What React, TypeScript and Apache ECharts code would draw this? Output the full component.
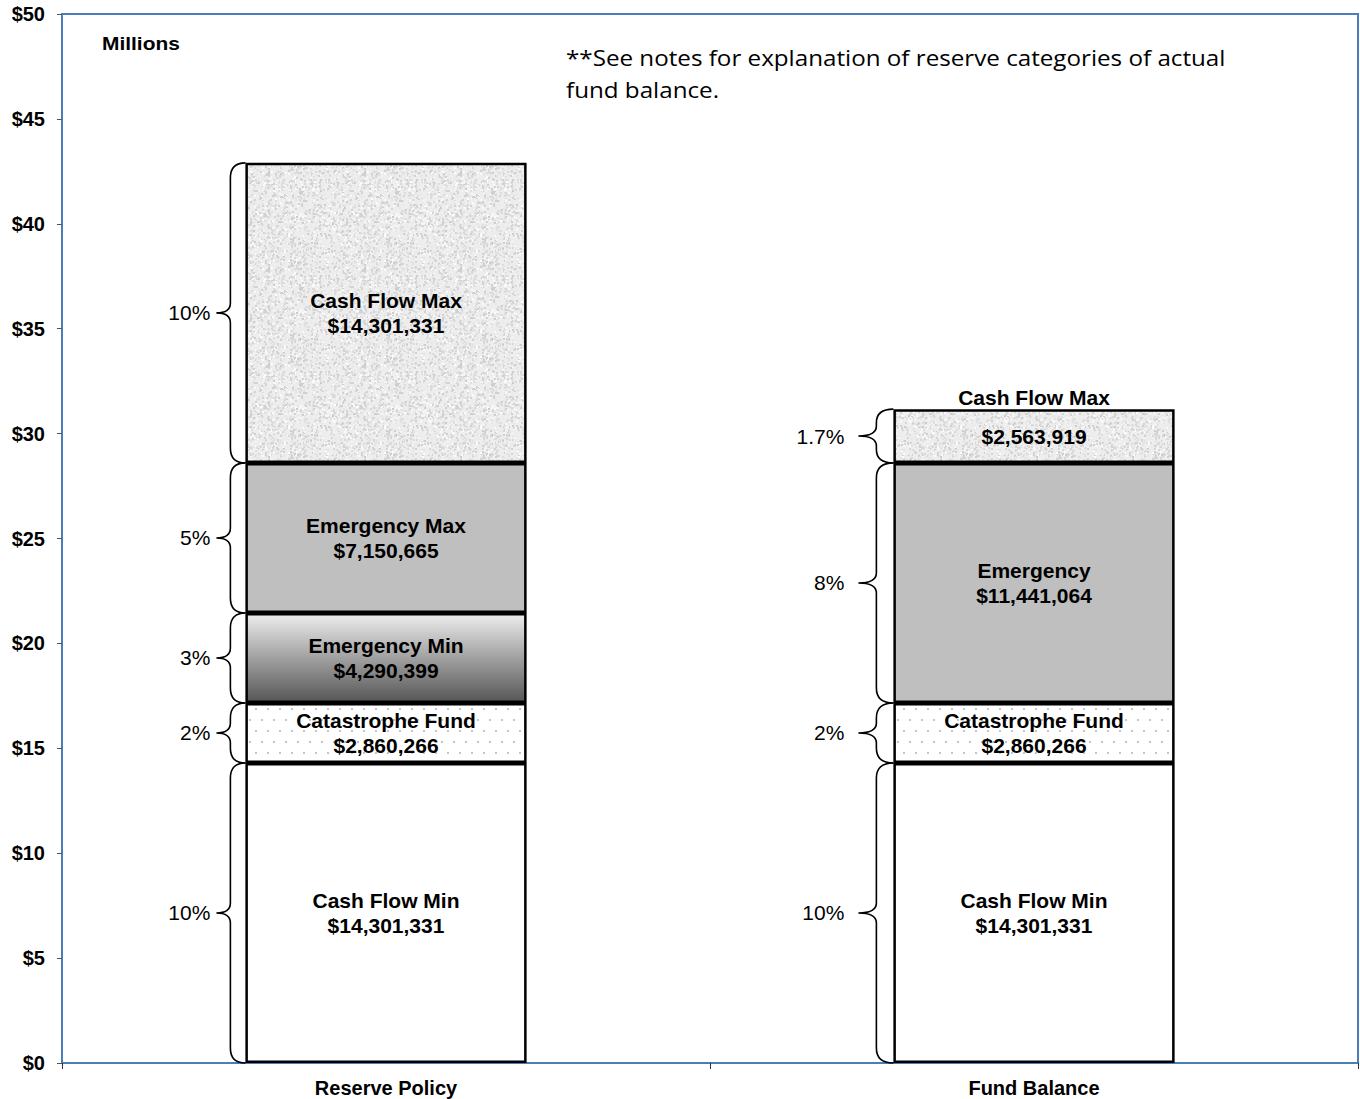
import React, { useEffect, useRef } from "react";
import * as echarts from "echarts";

// ---- data (millions of dollars) ----
const categories = ["Reserve Policy", "Fund Balance"];
const cashFlowMin = [14.301331, 14.301331];
const catastropheFund = [2.860266, 2.860266];
const emergencyMin: (number | string)[] = [4.290399, "-"];
const emergency = [7.150665, 11.441064];
const cashFlowMax = [14.301331, 2.563919];

const cashFlowMinNames = ["Cash Flow Min", "Cash Flow Min"];
const catastropheNames = ["Catastrophe Fund", "Catastrophe Fund"];
const emergencyMinNames = ["Emergency Min", ""];
const emergencyNames = ["Emergency Max", "Emergency"];
const cashFlowMaxInsideNames = ["Cash Flow Max", ""];
const cashFlowMaxAboveNames = ["", "Cash Flow Max"];

const cashFlowMinPct = ["10%", "10%"];
const catastrophePct = ["2%", "2%"];
const emergencyMinPct = ["3%", ""];
const emergencyPct = ["5%", "8%"];
const cashFlowMaxPct = ["10%", "1.7%"];

const yMin = 0;
const yMax = 50;
const yInterval = 5;
const noteLines = ["**See notes for explanation of reserve categories of actual", "fund balance."];
const unitLabel = "Millions";

const BAR_FRAC = 0.434;
const FONT = "Liberation Sans, Arial, sans-serif";

function fmtMoney(v: number) {
  return "$" + Math.round(v * 1e6).toLocaleString("en-US");
}

function makeNoiseCanvas() {
  const c = document.createElement("canvas");
  c.width = 96;
  c.height = 96;
  const ctx = c.getContext("2d")!;
  ctx.fillStyle = "#ededed";
  ctx.fillRect(0, 0, 96, 96);
  let s = 987654321;
  const rnd = () => {
    s = (Math.imul(s, 1664525) + 1013904223) >>> 0;
    return s / 4294967296;
  };
  for (let i = 0; i < 1800; i++) {
    const g = 205 + Math.floor(rnd() * 48);
    ctx.fillStyle = `rgb(${g},${g},${g})`;
    ctx.fillRect(Math.floor(rnd() * 96), Math.floor(rnd() * 96), 2, 2);
  }
  return c;
}

function makeDotCanvas() {
  const c = document.createElement("canvas");
  c.width = 24;
  c.height = 22;
  const ctx = c.getContext("2d")!;
  ctx.fillStyle = "#ffffff";
  ctx.fillRect(0, 0, 24, 22);
  ctx.fillStyle = "#c4c4c4";
  [[3, 4], [15, 4], [9, 15], [21, 15]].forEach(([x, y]) => ctx.fillRect(x, y, 2, 2));
  return c;
}

export default function App() {
  const ref = useRef<HTMLDivElement>(null);

  useEffect(() => {
    if (!ref.current) return;
    const chart = echarts.init(ref.current, null, { renderer: "svg" });

    const noise = makeNoiseCanvas();
    const dots = makeDotCanvas();

    const stackSeries = [cashFlowMin, catastropheFund, emergencyMin, emergency, cashFlowMax];
    const pctSeries = [cashFlowMinPct, catastrophePct, emergencyMinPct, emergencyPct, cashFlowMaxPct];
    const braceData: number[][] = [];
    const braceLabels: string[] = [];
    categories.forEach((_, ci) => {
      let acc = 0;
      stackSeries.forEach((arr, si) => {
        const v = arr[ci];
        if (typeof v !== "number") return;
        braceData.push([ci, acc, acc + v]);
        braceLabels.push(pctSeries[si][ci]);
        acc += v;
      });
    });
    const totals = categories.map((_, ci) =>
      stackSeries.reduce((a, arr) => a + (typeof arr[ci] === "number" ? (arr[ci] as number) : 0), 0)
    );
    const aboveData = categories
      .map((_, ci) => [ci, totals[ci]])
      .filter((_, ci) => cashFlowMaxAboveNames[ci]);
    const aboveLabels = cashFlowMaxAboveNames.filter((n) => n);

    const braceGeom = [
      { v: 15, tip: 29, gap: 6 },
      { v: 17, tip: 35, gap: 14 },
    ];

    const labelStyle = {
      show: true,
      position: "inside",
      color: "#000",
      fontFamily: FONT,
      fontWeight: "bold",
      fontSize: 21,
      lineHeight: 25,
    };

    const mkLabel = (names: string[]) => ({
      ...labelStyle,
      formatter: (p: any) => {
        const n = names[p.dataIndex];
        return n ? `${n}\n${fmtMoney(p.value)}` : fmtMoney(p.value);
      },
    });

    const itemBase = { borderColor: "#000", borderWidth: 2.5 };

    chart.setOption({
      animation: false,
      backgroundColor: "#fff",
      grid: {
        left: 62,
        right: 2,
        top: 14,
        bottom: 36,
        show: true,
        borderColor: "#4a7ebb",
        borderWidth: 2,
        backgroundColor: "transparent",
      },
      xAxis: {
        type: "category",
        data: categories,
        axisLine: { show: true, lineStyle: { color: "#4a7ebb", width: 2 } },
        axisTick: { show: true, length: 6, lineStyle: { color: "#333" } },
        axisLabel: {
          color: "#000",
          fontFamily: FONT,
          fontWeight: "bold",
          fontSize: 20,
          margin: 15,
        },
      },
      yAxis: {
        type: "value",
        min: yMin,
        max: yMax,
        interval: yInterval,
        splitLine: { show: false },
        axisLine: { show: true, lineStyle: { color: "#4a7ebb", width: 2 } },
        axisTick: { show: true, length: 5, lineStyle: { color: "#555" } },
        axisLabel: {
          color: "#000",
          fontFamily: FONT,
          fontWeight: "bold",
          fontSize: 20,
          margin: 17,
          formatter: (v: number) => "$" + v,
        },
      },
      graphic: [
        {
          type: "text",
          x: 102,
          y: 34,
          scaleX: 1.1,
          style: { text: unitLabel, font: `bold 19px ${FONT}`, fill: "#000" },
        },
        {
          type: "text",
          x: 566,
          y: 41,
          scaleX: 1.1,
          style: {
            text: noteLines.join("\n"),
            font: "22px Open Sans, sans-serif",
            lineHeight: 32,
            fill: "#000",
          },
        },
      ],
      series: [
        {
          name: "Cash Flow Min",
          type: "bar",
          stack: "t",
          barWidth: BAR_FRAC * 100 + "%",
          data: cashFlowMin,
          itemStyle: { ...itemBase, color: "#ffffff" },
          label: mkLabel(cashFlowMinNames),
        },
        {
          name: "Catastrophe Fund",
          type: "bar",
          stack: "t",
          data: catastropheFund,
          itemStyle: {
            ...itemBase,
            color: { image: dots, repeat: "repeat", imageWidth: 24, imageHeight: 22 },
          },
          label: mkLabel(catastropheNames),
        },
        {
          name: "Emergency Min",
          type: "bar",
          stack: "t",
          data: emergencyMin,
          itemStyle: {
            ...itemBase,
            color: new echarts.graphic.LinearGradient(0, 0, 0, 1, [
              { offset: 0, color: "#ededed" },
              { offset: 0.45, color: "#a8a8a8" },
              { offset: 1, color: "#575757" },
            ]),
          },
          label: mkLabel(emergencyMinNames),
        },
        {
          name: "Emergency",
          type: "bar",
          stack: "t",
          data: emergency,
          itemStyle: { ...itemBase, color: "#bfbfbf" },
          label: mkLabel(emergencyNames),
        },
        {
          name: "Cash Flow Max",
          type: "bar",
          stack: "t",
          data: cashFlowMax,
          itemStyle: {
            ...itemBase,
            color: { image: noise, repeat: "repeat", imageWidth: 96, imageHeight: 96 },
          },
          label: mkLabel(cashFlowMaxInsideNames),
        },
        {
          name: "braces",
          type: "custom",
          clip: false,
          silent: true,
          z: 5,
          data: braceData,
          renderItem: (params: any, api: any) => {
            const ci = api.value(0);
            const lo = api.value(1);
            const hi = api.value(2);
            const pTop = api.coord([ci, hi]);
            const pBot = api.coord([ci, lo]);
            const bw = api.size([1, 0])[0] * BAR_FRAC;
            const x0 = pTop[0] - bw / 2;
            const g = braceGeom[ci];
            const xv = x0 - g.v;
            const xt = x0 - g.tip;
            const yT = pTop[1];
            const yB = pBot[1];
            const yM = (yT + yB) / 2;
            const h = yB - yT;
            const r = Math.min(15, h / 4);
            const r2 = Math.min(10, h / 5);
            const d =
              `M${x0},${yT} Q${xv},${yT} ${xv},${yT + r} L${xv},${yM - r2} ` +
              `Q${xv},${yM} ${xt},${yM} Q${xv},${yM} ${xv},${yM + r2} ` +
              `L${xv},${yB - r} Q${xv},${yB} ${x0},${yB}`;
            return {
              type: "group",
              children: [
                {
                  type: "path",
                  shape: { pathData: d },
                  style: { fill: "none", stroke: "#000", lineWidth: 1.6 },
                },
                {
                  type: "text",
                  style: {
                    text: braceLabels[params.dataIndex],
                    x: xt - g.gap,
                    y: yM,
                    align: "right",
                    verticalAlign: "middle",
                    font: `21px ${FONT}`,
                    fill: "#000",
                  },
                },
              ],
            };
          },
        },
        {
          name: "aboveLabels",
          type: "custom",
          clip: false,
          silent: true,
          z: 5,
          data: aboveData,
          renderItem: (params: any, api: any) => {
            const p = api.coord([api.value(0), api.value(1)]);
            return {
              type: "text",
              style: {
                text: aboveLabels[params.dataIndex],
                x: p[0],
                y: p[1] - 12,
                align: "center",
                verticalAlign: "middle",
                font: `bold 21px ${FONT}`,
                fill: "#000",
              },
            };
          },
        },
      ],
    });

    return () => chart.dispose();
  }, []);

  return (
    <div
      ref={ref}
      style={{ position: "absolute", left: 0, top: 0, width: 1360, height: 1099 }}
    />
  );
}
